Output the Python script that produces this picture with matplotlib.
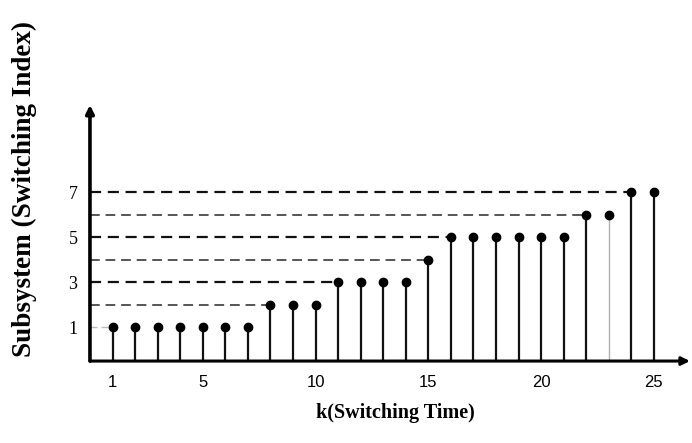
import matplotlib
matplotlib.use("Agg")
import matplotlib.pyplot as plt

# switching times and the active subsystem at each step
k_values = list(range(1, 26))
subsystem = [1, 1, 1, 1, 1, 1, 1,
             2, 2, 2,
             3, 3, 3, 3,
             4,
             5, 5, 5, 5, 5, 5,
             6, 6,
             7, 7]
x_ticks = [1, 5, 10, 15, 20, 25]
y_ticks = [1, 3, 5, 7]

fig = plt.figure(figsize=(6.92, 4.43), dpi=100)
ax = fig.add_axes([0.130, 0.185, 0.867, 0.578])
x_min, x_max = 0.0, 26.6
y_min, y_max = -0.51, 10.87
ax.set_xlim(x_min, x_max)
ax.set_ylim(y_min, y_max)
for s in ax.spines.values():
    s.set_visible(False)

# dashed guides from the vertical axis to the first switch into each subsystem
first_k = {}
for k, s in zip(k_values, subsystem):
    first_k.setdefault(s, k)
for s, k in first_k.items():
    if s == 1:
        col, lw = "#bbbbbb", 1.0
    elif s % 2 == 0:
        col, lw = "#555555", 1.4
    else:
        col, lw = "#111111", 1.6
    ax.plot([x_min, k], [s, s], color=col, lw=lw, dashes=(5, 3), zorder=1)

# stems and filled heads
for k, s in zip(k_values, subsystem):
    col, lw = ("#b0b0b0", 1.0) if k == 23 else ("#111111", 1.6)
    ax.plot([k, k], [y_min, s], color=col, lw=lw, zorder=2)
ax.plot(k_values, subsystem, "o", color="black", ms=6, zorder=3)

# axes drawn as arrows
ax.annotate("", xy=(x_max, y_min), xytext=(x_min, y_min),
            arrowprops=dict(arrowstyle="-|>", color="black", lw=2.2,
                            mutation_scale=12, shrinkA=0, shrinkB=0),
            annotation_clip=False)
ax.annotate("", xy=(x_min, y_max), xytext=(x_min, y_min),
            arrowprops=dict(arrowstyle="-|>", color="black", lw=2.6,
                            mutation_scale=12, shrinkA=0, shrinkB=0),
            annotation_clip=False)

ax.set_xticks(x_ticks)
ax.set_xticklabels([str(v) for v in x_ticks], family="Liberation Sans", fontsize=12)
ax.set_yticks(y_ticks)
ax.set_yticklabels([str(v) for v in y_ticks], family="Liberation Serif", fontsize=13)
ax.tick_params(axis="both", length=0)
ax.tick_params(axis="x", pad=10)
ax.tick_params(axis="y", pad=9)

fig.text(0.035, 0.573, "Subsystem (Switching Index)", rotation=90,
         family="Liberation Serif", fontweight="bold", fontsize=19.5,
         ha="center", va="center")
fig.text(0.572, 0.067, "k(Switching Time)", family="Liberation Serif",
         fontweight="bold", fontsize=14.5, ha="center", va="center")

fig.savefig("out.png", dpi=100)
